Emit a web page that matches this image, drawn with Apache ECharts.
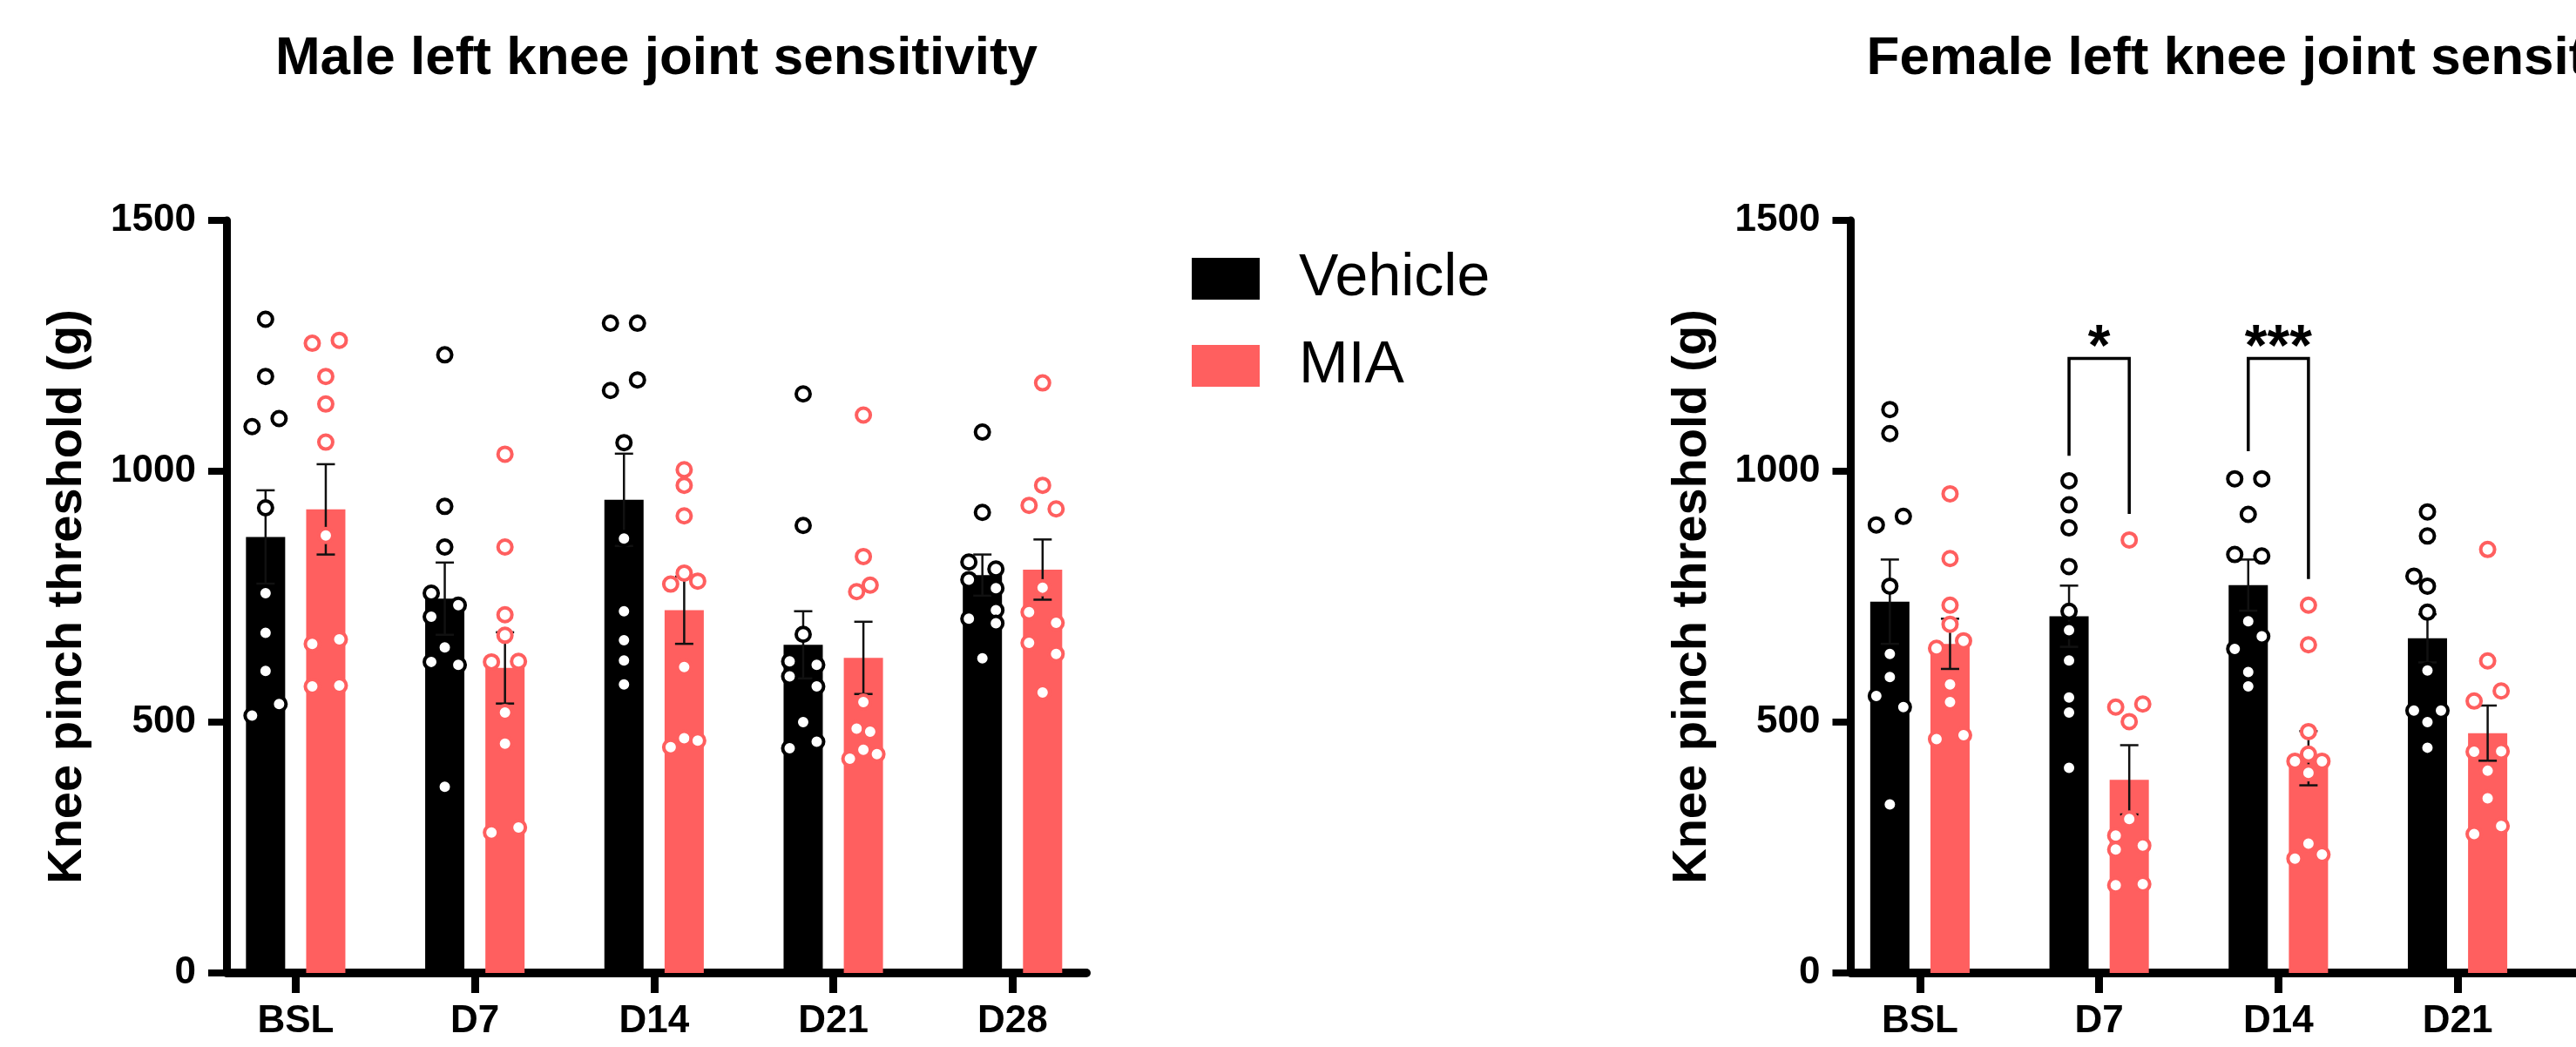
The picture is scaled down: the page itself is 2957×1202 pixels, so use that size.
<!DOCTYPE html>
<html>
<head>
<meta charset="utf-8">
<script src="https://cdn.jsdelivr.net/npm/echarts@6/dist/echarts.min.js"></script>
<style>
  html, body { margin: 0; padding: 0; background: #ffffff; overflow: hidden; }
  #chart { width: 3300px; height: 1202px; }
</style>
</head>
<body>
<div id="chart"></div>
<script>
// ---- data -------------------------------------------------------------
const categories = ['BSL', 'D7', 'D14', 'D21', 'D28'];
const yTicks = [0, 500, 1000, 1500];
const groups = ['Vehicle', 'MIA'];

// group means and SEM (g)
const maleVehicleMean = [869, 746, 943, 654, 793];
const maleVehicleSem  = [93, 72, 92, 67, 41];
const maleMiaMean     = [924, 608, 723, 628, 804];
const maleMiaSem      = [90, 71, 67, 72, 60];

const femaleVehicleMean = [740, 711, 773, 667];
const femaleVehicleSem  = [84, 61, 51, 48];
const femaleMiaMean     = [656, 385, 428, 478];
const femaleMiaSem      = [50, 69, 54, 55];

// individual animals, one list per time point; slots place tied dots side by side
const maleVehicleDots = [
  [1303, 1189, 1105, 1089, 927, 757, 678, 602, 536, 513],
  [1232, 930, 849, 757, 733, 710, 649, 620, 614, 371],
  [1295, 1295, 1182, 1161, 1057, 866, 721, 663, 623, 575],
  [1154, 892, 675, 621, 614, 591, 571, 500, 461, 448],
  [1078, 918, 819, 805, 784, 767, 723, 706, 697, 627]
];
const maleVehicleSlots = [
  [0, 0, 1, -1, 0, 0, 0, 0, 1, -1],
  [0, 0, 0, -1, 1, -1, 0, -1, 1, 0],
  [-1, 1, 1, -1, 0, 0, 0, 0, 0, 0],
  [0, 0, 0, -1, 1, -1, 1, 0, 1, -1],
  [0, 0, -1, 1, -1, 1, 1, -1, 1, 0]
];
const maleMiaDots = [
  [1261, 1255, 1189, 1134, 1058, 872, 665, 656, 573, 571],
  [1034, 849, 714, 673, 621, 620, 519, 457, 290, 280],
  [1003, 972, 911, 797, 781, 775, 610, 468, 463, 450],
  [1112, 830, 773, 760, 540, 487, 481, 445, 436, 427],
  [1176, 972, 932, 925, 768, 719, 698, 658, 636, 559]
];
const maleMiaSlots = [
  [1, -1, 0, 0, 0, 0, 1, -1, 1, -1],
  [0, 0, 0, 0, 1, -1, 0, 0, 1, -1],
  [0, 0, 0, 0, 1, -1, 0, 0, 1, -1],
  [0, 0, 0.5, -0.5, 0, -0.5, 0.5, 0, 1, -1],
  [0, 0, -1, 1, 0, -1, 1, -1, 1, 0]
];
const femaleVehicleDots = [
  [1123, 1075, 910, 893, 771, 636, 590, 552, 530, 336],
  [981, 933, 887, 810, 721, 683, 623, 549, 519, 409],
  [985, 985, 914, 834, 831, 701, 671, 646, 600, 571],
  [919, 871, 791, 771, 719, 603, 523, 523, 500, 449]
];
const femaleVehicleSlots = [
  [0, 0, 1, -1, 0, 0, 0, -1, 1, 0],
  [0, 0, 0, 0, 0, 0, 0, 0, 0, 0],
  [-1, 1, 0, -1, 1, 0, 1, -1, 0, 0],
  [0, 0, -1, 0, 0, 0, -1, 1, 0, 0]
];
const femaleMiaDots = [
  [955, 826, 733, 695, 662, 647, 575, 540, 474, 466],
  [863, 536, 530, 501, 307, 274, 254, 246, 177, 175],
  [733, 654, 481, 436, 422, 422, 399, 258, 236, 228],
  [844, 622, 562, 542, 442, 441, 403, 348, 293, 277]
];
const femaleMiaSlots = [
  [0, 0, 0, 0, 1, -1, 0, 0, 1, -1],
  [0, 1, -1, 0, 0, -1, 1, -1, 1, -1],
  [0, 0, 0, 0, -1, 1, 0, 0, 1, -1],
  [0, 0, 1, -1, 1, -1, 0, 0, 1, -1]
];

// significance brackets (female panel)
const sigCategory   = [1, 2];
const sigTop        = [1225, 1225];
const sigVehicleEnd = [1031, 1040];
const sigMiaEnd     = [915, 785];
const sigLabels     = ['*', '***'];

// ---- styling ------------------------------------------------------------
const BLACK = '#000000';
const RED = '#FF5F5F';
const FONT = "'Liberation Sans', Arial, Helvetica, sans-serif";
const SHIFT = 0.168;   // offset of each bar from its category centre
const SLOT = 0.0754;   // spacing of side-by-side dots

const panels = [
  { title: 'Male left knee joint sensitivity', left: 260,
    vMean: maleVehicleMean, vSem: maleVehicleSem, mMean: maleMiaMean, mSem: maleMiaSem,
    vDots: maleVehicleDots, vSlots: maleVehicleSlots, mDots: maleMiaDots, mSlots: maleMiaSlots },
  { title: 'Female left knee joint sensitivity', left: 2124.5,
    vMean: femaleVehicleMean, vSem: femaleVehicleSem, mMean: femaleMiaMean, mSem: femaleMiaSem,
    vDots: femaleVehicleDots, vSlots: femaleVehicleSlots, mDots: femaleMiaDots, mSlots: femaleMiaSlots }
];
const GRID_W = 987, GRID_TOP = 253, GRID_H = 864;
const catIdx = categories.map((c, i) => i);

function barData(means, sign) {
  return means.map((m, i) => [i + sign * SHIFT, m]);
}
function dotData(dots, slots, sign) {
  const out = [];
  dots.forEach((vals, i) => vals.forEach((v, k) => out.push([i + sign * SHIFT + slots[i][k] * SLOT, v])));
  return out;
}
function errData(means, sems, sign) {
  return means.map((m, i) => [i + sign * SHIFT, m, sems[i]]);
}

function errorSeries(data, ai) {
  return {
    type: 'custom', xAxisIndex: ai, yAxisIndex: ai, z: 3, silent: true,
    data: data, encode: { x: 0, y: 1 },
    renderItem: (params, api) => {
      const x = api.value(0), m = api.value(1), s = api.value(2);
      const hi = api.coord([x, m + s]), lo = api.coord([x, m - s]);
      const w = 10.5;
      const st = { stroke: '#111111', lineWidth: 2.5 };
      return { type: 'group', children: [
        { type: 'line', shape: { x1: hi[0], y1: hi[1], x2: lo[0], y2: lo[1] }, style: st },
        { type: 'line', shape: { x1: hi[0] - w, y1: hi[1], x2: hi[0] + w, y2: hi[1] }, style: st },
        { type: 'line', shape: { x1: lo[0] - w, y1: lo[1], x2: lo[0] + w, y2: lo[1] }, style: st }
      ]};
    }
  };
}

const grids = [], xAxes = [], yAxes = [], titles = [], series = [];
panels.forEach((p, ai) => {
  grids.push({ left: p.left, top: GRID_TOP, width: GRID_W, height: GRID_H, containLabel: false });
  titles.push({
    text: p.title, left: p.left + GRID_W / 2, top: 37, textAlign: 'center', padding: 0,
    textStyle: { fontFamily: FONT, fontSize: 62, fontWeight: 'bold', color: BLACK }
  });
  xAxes.push({
    type: 'value', gridIndex: ai, min: -0.386, max: 4.412,
    axisLine: { show: true, onZero: false, lineStyle: { color: BLACK, width: 10 } },
    axisTick: { show: true, customValues: catIdx, length: 23, lineStyle: { color: BLACK, width: 9 } },
    axisLabel: { customValues: catIdx, formatter: v => categories[Math.round(v)], margin: 34,
      fontFamily: FONT, fontSize: 44, fontWeight: 'bold', color: BLACK },
    splitLine: { show: false }
  });
  yAxes.push({
    type: 'value', gridIndex: ai, min: yTicks[0], max: yTicks[yTicks.length - 1], interval: 500,
    axisLine: { show: true, onZero: false, lineStyle: { color: BLACK, width: 9 } },
    axisTick: { show: true, length: 21, lineStyle: { color: BLACK, width: 8 } },
    axisLabel: { margin: 35, formatter: v => String(v),
      fontFamily: FONT, fontSize: 44, fontWeight: 'bold', color: BLACK },
    splitLine: { show: false },
    name: 'Knee pinch threshold (g)', nameLocation: 'middle', nameRotate: 90, nameGap: 154,
    nameTextStyle: { fontFamily: FONT, fontSize: 56, fontWeight: 'bold', color: BLACK }
  });
  // bars
  series.push({ type: 'bar', name: groups[0], xAxisIndex: ai, yAxisIndex: ai, z: 2,
    barWidth: 45, barGap: '-100%', itemStyle: { color: BLACK }, data: barData(p.vMean, -1) });
  series.push({ type: 'bar', name: groups[1], xAxisIndex: ai, yAxisIndex: ai, z: 2,
    barWidth: 45, barGap: '-100%', itemStyle: { color: RED }, data: barData(p.mMean, 1) });
  // SEM
  series.push(errorSeries(errData(p.vMean, p.vSem, -1), ai));
  series.push(errorSeries(errData(p.mMean, p.mSem, 1), ai));
  // animals
  series.push({ type: 'scatter', name: 'Vehicle animals', xAxisIndex: ai, yAxisIndex: ai, z: 4,
    symbol: 'circle', symbolSize: 16, silent: true,
    itemStyle: { color: '#ffffff', borderColor: BLACK, borderWidth: 4, opacity: 1 },
    data: dotData(p.vDots, p.vSlots, -1) });
  series.push({ type: 'scatter', name: 'MIA animals', xAxisIndex: ai, yAxisIndex: ai, z: 4,
    symbol: 'circle', symbolSize: 16, silent: true,
    itemStyle: { color: '#ffffff', borderColor: RED, borderWidth: 4, opacity: 1 },
    data: dotData(p.mDots, p.mSlots, 1) });
});

// significance brackets on the female panel
series.push({
  type: 'custom', xAxisIndex: 1, yAxisIndex: 1, z: 5, silent: true,
  data: sigCategory.map((c, k) => [c, sigTop[k], sigVehicleEnd[k], sigMiaEnd[k]]),
  encode: { x: 0, y: 1 },
  renderItem: (params, api) => {
    const c = api.value(0), top = api.value(1);
    const a = api.coord([c - SHIFT, api.value(2)]);
    const b = api.coord([c - SHIFT, top]);
    const d = api.coord([c + SHIFT, top]);
    const e = api.coord([c + SHIFT, api.value(3)]);
    const mid = api.coord([c, top]);
    return { type: 'group', children: [
      { type: 'polyline', shape: { points: [a, b, d, e] },
        style: { stroke: BLACK, lineWidth: 3.5, fill: null } },
      { type: 'text', x: mid[0], y: mid[1] - 11,
        style: { text: sigLabels[params.dataIndex], fill: BLACK, align: 'center', verticalAlign: 'middle',
          font: 'bold 66px ' + FONT } }
    ]};
  }
});

const chart = echarts.init(document.getElementById('chart'), null, { renderer: 'canvas' });
chart.setOption({
  animation: false,
  backgroundColor: '#ffffff',
  title: titles,
  legend: {
    orient: 'vertical', left: 1368, top: 286, padding: 0,
    itemWidth: 78, itemHeight: 48, itemGap: 32,
    data: groups.map(g => ({ name: g, icon: 'rect' })),
    textStyle: { fontFamily: FONT, fontSize: 68, color: BLACK, padding: [0, 0, 0, 40] },
    selectedMode: false
  },
  grid: grids,
  xAxis: xAxes,
  yAxis: yAxes,
  series: series
});
</script>
</body>
</html>
